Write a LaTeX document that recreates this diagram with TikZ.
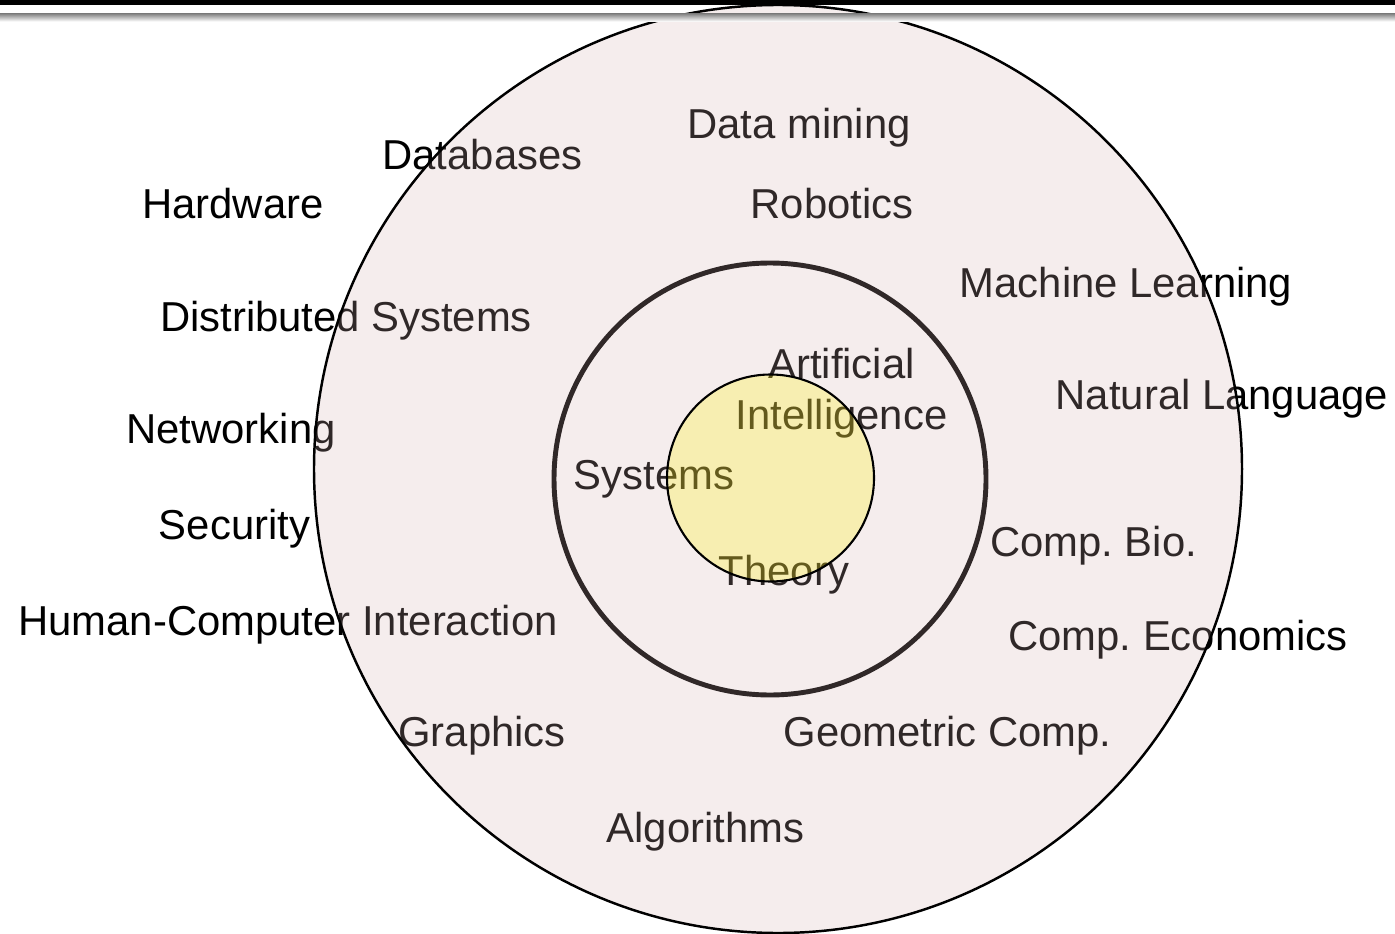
\documentclass[tikz,border=0pt]{standalone}
\usepackage{fontspec}
\setmainfont{Liberation Sans}
\usepackage{tikz}
\usepackage{xcolor}
\usetikzlibrary{positioning}
\definecolor{fieldfill}{RGB}{211,176,176}
\definecolor{corefill}{RGB}{255,240,0}
\definecolor{ringline}{RGB}{48,40,40}
\frenchspacing

\begin{document}
\begin{tikzpicture}[scale=0.2]
\tikzstyle{every node}+=[inner sep=0pt]
\tikzstyle{topic}=[anchor=base,font=\fontsize{23.8}{28}\selectfont]
\useasboundingbox (0,0) rectangle (139.5,-93.4);
\draw (79.9,-13.9) node (datamining) [topic] {Data mining};
\draw (48.25,-17.0) node (databases) [topic] {Databases};
\draw (23.3,-21.9) node (hardware) [topic] {Hardware};
\draw (83.2,-21.9) node (robotics) [topic] {Robotics};
\draw (112.6,-29.8) node (ml) [topic] {Machine Learning};
\draw (34.6,-33.1) node (distsys) [topic] {Distributed Systems};
\draw (84.15,-37.8) node (ai1) [topic] {Artificial};
\draw (84.15,-42.9) node (ai2) [topic] {Intelligence};
\draw (122.2,-40.9) node (nlp) [topic] {Natural Language};
\draw (23.1,-44.3) node (networking) [topic] {Networking};
\draw (65.4,-48.9) node (systems) [topic] {Systems};
\draw (23.45,-53.9) node (security) [topic] {Security};
\draw (109.35,-55.6) node (compbio) [topic] {Comp. Bio.};
\draw (78.4,-58.5) node (theory) [topic] {Theory};
\draw (28.8,-63.5) node (hci) [topic] {Human-Computer Interaction};
\draw (117.8,-65.0) node (compecon) [topic] {Comp. Economics};
\draw (48.2,-74.6) node (graphics) [topic] {Graphics};
\draw (94.75,-74.6) node (geomcomp) [topic] {Geometric Comp.};
\draw (70.55,-84.2) node (algorithms) [topic] {Algorithms};
% rings
\fill [fieldfill,fill opacity=0.227] (77.8,-46.9) circle (46.4);
\draw [black,line width=1.4pt] (77.8,-46.9) circle (46.4);
\draw [ringline,line width=2.8pt] (77.0,-47.9) circle (21.6);
\fill [corefill,fill opacity=0.25] (77.05,-47.8) circle (10.35);
\draw [black,line width=1.2pt] (77.05,-47.8) circle (10.35);
% top bar
\fill [black] (0,0) rectangle (139.5,-0.48);
\shade [top color=black!48,bottom color=white] (0,-1.38) rectangle (139.5,-2.15);
\end{tikzpicture}
\end{document}
